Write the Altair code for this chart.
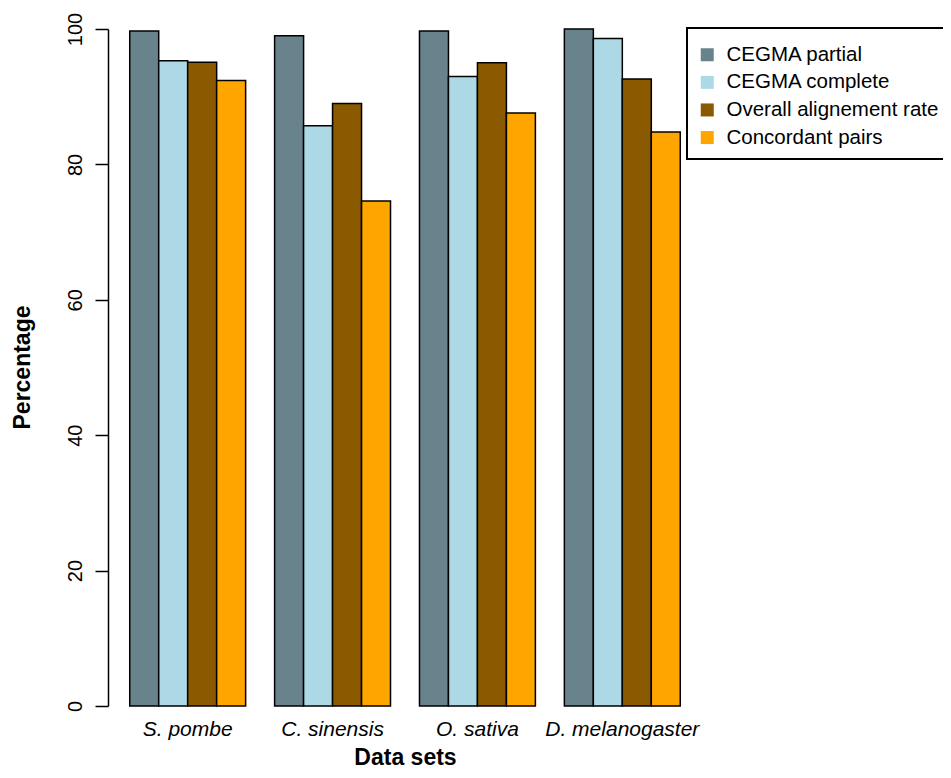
import altair as alt
import pandas as pd

datasets = ["S. pombe", "C. sinensis", "O. sativa", "D. melanogaster"]
series = ["CEGMA partial", "CEGMA complete", "Overall alignement rate", "Concordant pairs"]
colors = ["#68838B", "#ADD8E6", "#8B5A00", "#FFA500"]

cegma_partial = [99.7, 99.0, 99.7, 100.0]
cegma_complete = [95.3, 85.7, 93.0, 98.6]
overall_alignment = [95.1, 89.0, 95.0, 92.6]
concordant_pairs = [92.4, 74.6, 87.6, 84.8]

values = [cegma_partial, cegma_complete, overall_alignment, concordant_pairs]
rows = []
for s, vals in zip(series, values):
    for d, v in zip(datasets, vals):
        rows.append({"dataset": d, "series": s, "value": v})
df = pd.DataFrame(rows)

FONT = "Liberation Sans"

chart = alt.Chart(df).mark_bar(stroke="black", strokeWidth=1.5).encode(
    x=alt.X(
        "dataset:N",
        sort=datasets,
        scale=alt.Scale(paddingInner=0.2, paddingOuter=0.15),
        axis=alt.Axis(
            title="Data sets",
            domain=False,
            ticks=False,
            labelAngle=0,
            labelFont=FONT,
            labelFontSize=21,
            labelFontStyle="italic",
            labelColor="black",
            labelPadding=12,
            titleFont=FONT,
            titleFontSize=23,
            titleFontWeight="bold",
            titleColor="black",
            titleBaseline="alphabetic",
            titleY=58,
        ),
    ),
    xOffset=alt.XOffset("series:N", sort=series, scale=alt.Scale(paddingInner=0, paddingOuter=0)),
    y=alt.Y(
        "value:Q",
        scale=alt.Scale(domain=[0, 100], nice=False, zero=True),
        axis=alt.Axis(
            title="Percentage",
            values=[0, 20, 40, 60, 80, 100],
            grid=False,
            domainColor="black",
            domainWidth=1.5,
            tickColor="black",
            tickWidth=1.5,
            tickSize=13,
            labelAngle=270,
            labelAlign="center",
            labelBaseline="bottom",
            labelPadding=10,
            labelFont=FONT,
            labelFontSize=20,
            labelColor="black",
            titleFont=FONT,
            titleFontSize=23,
            titleFontWeight="bold",
            titleColor="black",
            titleAngle=270,
            titleAlign="center",
            titleBaseline="middle",
            titleX=-86,
            titleY=338,
        ),
    ),
    color=alt.Color(
        "series:N",
        sort=series,
        scale=alt.Scale(domain=series, range=colors),
        legend=alt.Legend(
            title=" ",
            titleFontSize=6.5,
            titlePadding=0,
            orient="none",
            legendX=579,
            legendY=-1,
            strokeColor="black",
            fillColor="white",
            padding=10,
            symbolType="square",
            symbolSize=169,
            symbolStrokeWidth=0,
            symbolOpacity=1,
            labelFont=FONT,
            labelFontSize=20.5,
            labelColor="black",
            labelOffset=9,
            rowPadding=6.6,
            labelLimit=400,
        ),
    ),
).properties(
    width=594,
    height=677,
    autosize=alt.AutoSizeParams(type="none"),
    padding={"left": 100, "top": 21, "right": 241, "bottom": 64},
).configure_view(stroke=None).configure_legend(strokeWidth=2)

chart.save("out.html", embed_options={"renderer": "svg", "actions": False})
